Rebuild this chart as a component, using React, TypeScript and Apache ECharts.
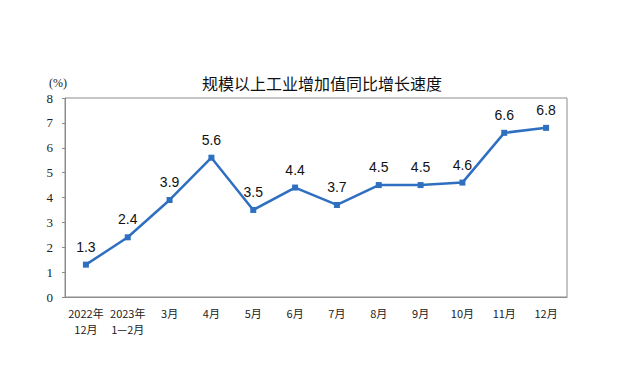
import React, { useEffect, useRef } from "react";
import * as echarts from "echarts";

const categories = ["2022年\n12月", "2023年\n1—2月", "3月", "4月", "5月", "6月", "7月", "8月", "9月", "10月", "11月", "12月"];
const values = [1.3, 2.4, 3.9, 5.6, 3.5, 4.4, 3.7, 4.5, 4.5, 4.6, 6.6, 6.8];
const title = "规模以上工业增加值同比增长速度";
const unitLabel = "(%)";

export default function App() {
  const ref = useRef<HTMLDivElement>(null);
  useEffect(() => {
    if (!ref.current) return;
    const chart = echarts.init(ref.current, undefined, { renderer: "svg" });
    chart.setOption({
      animation: false,
      backgroundColor: "#ffffff",
      title: {
        text: title,
        left: 317,
        textAlign: "center",
        top: 70,
        textStyle: { fontFamily: "Noto Sans CJK SC", fontSize: 16, fontWeight: "normal", color: "#111" },
      },
      graphic: [
        {
          type: "text",
          left: 49,
          top: 77,
          style: { text: unitLabel, font: "12px 'Liberation Serif', 'DejaVu Serif', serif", fill: "#222" },
        },
      ],
      grid: {
        left: 65,
        right: 56,
        top: 98,
        bottom: 93,
        show: true,
        borderColor: "#8c8c8c",
        borderWidth: 1,
      },
      xAxis: {
        type: "category",
        data: categories,
        boundaryGap: true,
        axisLine: { lineStyle: { color: "#8c8c8c" } },
        axisTick: { inside: true, length: 4, lineStyle: { color: "#8c8c8c" } },
        axisLabel: {
          color: "#222",
          fontFamily: "Noto Sans CJK SC",
          fontSize: 11,
          lineHeight: 16,
          margin: 8,
          interval: 0,
        },
      },
      yAxis: {
        type: "value",
        min: 0,
        max: 8,
        interval: 1,
        splitLine: { show: false },
        axisLine: { show: true, lineStyle: { color: "#8c8c8c" } },
        axisTick: { show: true, length: 3, lineStyle: { color: "#8c8c8c" } },
        axisLabel: { color: "#222", fontFamily: "'Liberation Serif', 'DejaVu Serif', serif", fontSize: 13, margin: 12 },
      },
      series: [
        {
          type: "line",
          data: values,
          symbol: "rect",
          symbolSize: 6,
          lineStyle: { color: "#2e6fc0", width: 2.5 },
          itemStyle: { color: "#2e6fc0" },
          label: {
            show: true,
            position: "top",
            distance: 8,
            color: "#111",
            fontFamily: "Liberation Sans",
            fontSize: 14,
          },
        },
      ],
    });
    return () => chart.dispose();
  }, []);
  return <div ref={ref} style={{ width: 623, height: 390, position: "absolute", left: 0, top: 0 }} />;
}
